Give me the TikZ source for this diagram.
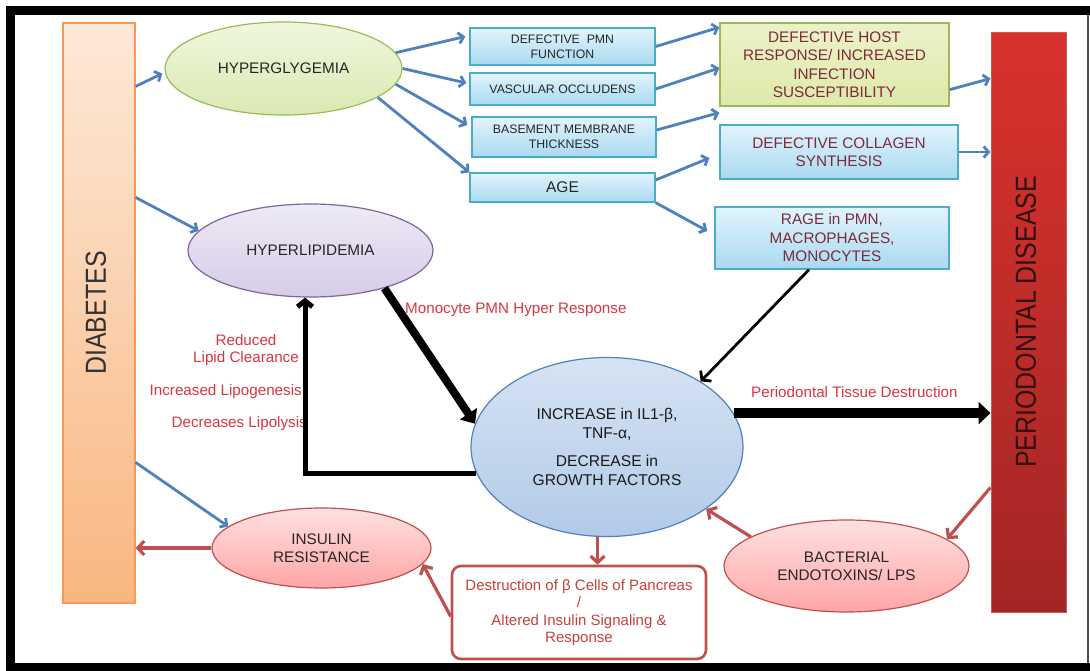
\documentclass[tikz,border=0pt]{standalone}
\usepackage{fontspec}
\setmainfont{Liberation Sans}
\usetikzlibrary{arrows.meta,shapes.geometric,calc}
\definecolor{bluearrow}{HTML}{4F81BD}
\definecolor{redarrow}{HTML}{C0504D}
\definecolor{boxborder}{HTML}{4BACC6}
\definecolor{boxtop}{HTML}{E2F4FC}
\definecolor{boxbot}{HTML}{A9D9F0}
\definecolor{maroon}{HTML}{7B2B3B}
\definecolor{labelred}{HTML}{D9363E}
\definecolor{destred}{HTML}{C8403A}
\begin{document}
\begin{tikzpicture}[x=1pt,y=-1pt,
  bluebox/.style={rectangle,draw=boxborder,line width=1.3pt,top color=boxtop,bottom color=boxbot,inner sep=1pt,align=center,text=black!85,font=\fontsize{12.3}{15}\selectfont},
  bigbox/.style={bluebox,text=maroon,font=\fontsize{15.3}{18.5}\selectfont},
  blueline/.style={draw=bluearrow,line width=2.8pt,-{Straight Barb[length=5pt,width=11pt]}},
  redline/.style={draw=redarrow,line width=3.2pt,-{Straight Barb[length=6.5pt,width=14pt]}},
  redell/.style={ellipse,draw=redarrow,line width=1.2pt,top color=red!12,bottom color=red!35!white,inner sep=0pt,align=center,text=black!85,font=\fontsize{15.3}{18}\selectfont},
  redlabel/.style={text=labelred,font=\fontsize{15.2}{16.5}\selectfont,inner sep=0pt}
]
\useasboundingbox (0,0) rectangle (1090,671);
\fill[white] (0,0) rectangle (1090,671);
% frame
\fill[black] (6,6) rectangle (1090,15);
\fill[black] (6,6) rectangle (15,671);
\fill[black] (6,663) rectangle (1090,671);
\draw[black!70,line width=1.2pt] (1088,15) -- (1088,663);

% side bars
\node[rectangle,draw=orange!85!red!70!white,line width=1.2pt,top color={rgb,255:red,253;green,233;blue,217},bottom color={rgb,255:red,249;green,182;blue,128},minimum width=72,minimum height=580,inner sep=0pt] (diab) at (99,313) {};
\node[rotate=90,text=black!80,font=\fontsize{29}{30}\selectfont,inner sep=0pt] (diabt) at (96,313) {\scalebox{0.86}[1]{DIABETES}};
\node[rectangle,draw={rgb,255:red,200;green,90;blue,90},line width=1pt,top color={rgb,255:red,217;green,50;blue,45},bottom color={rgb,255:red,163;green,38;blue,36},minimum width=75,minimum height=579,inner sep=0pt] (perio) at (1028.5,322.5) {};
\node[rotate=90,text={rgb,255:red,50;green,16;blue,16},font=\fontsize{29}{30}\selectfont,inner sep=0pt] (periot) at (1026,322) {\scalebox{0.86}[1]{PERIODONTAL DISEASE}};

% ellipses
\node[ellipse,draw={rgb,255:red,155;green,187;blue,89},line width=1.2pt,top color={rgb,255:red,240;green,246;blue,222},bottom color={rgb,255:red,218;green,233;blue,178},minimum width=237,minimum height=93,inner sep=0pt,font=\fontsize{15.3}{18}\selectfont,text=black!85] (hg) at (283.5,68.5) {HYPERGLYGEMIA};
\node[ellipse,draw={rgb,255:red,128;green,100;blue,162},line width=1.2pt,top color={rgb,255:red,238;green,234;blue,246},bottom color={rgb,255:red,214;green,204;blue,232},minimum width=245,minimum height=93,inner sep=0pt,font=\fontsize{15.3}{18}\selectfont,text=black!85] (hl) at (310.5,250.5) {HYPERLIPIDEMIA};
\node[ellipse,draw=bluearrow,line width=1.2pt,top color={rgb,255:red,214;green,227;blue,243},bottom color={rgb,255:red,178;green,202;blue,232},minimum width=272,minimum height=179,inner sep=0pt,align=center,font=\fontsize{15.6}{19}\selectfont,text=black!90] (cyt) at (607,447) {INCREASE in IL1-β,\\TNF-α,\\[9pt]DECREASE in\\GROWTH FACTORS};
\node[redell,minimum width=219,minimum height=80] (ins) at (321.5,548) {INSULIN\\RESISTANCE};
\node[redell,minimum width=245,minimum height=92] (bact) at (846.5,566) {BACTERIAL\\ENDOTOXINS/ LPS};

% boxes
\node[bluebox,minimum width=185,minimum height=37] (dpmn) at (562.5,46.5) {DEFECTIVE\ \ PMN\\FUNCTION};
\node[bluebox,minimum width=185,minimum height=32] (voc) at (562.5,89) {VASCULAR OCCLUDENS};
\node[bluebox,minimum width=184,minimum height=40] (bmt) at (564,137) {BASEMENT MEMBRANE\\THICKNESS};
\node[bluebox,minimum width=185,minimum height=29,font=\fontsize{15.5}{18}\selectfont] (age) at (562.5,187.5) {AGE};
\node[bigbox,draw={rgb,255:red,155;green,187;blue,89},top color={rgb,255:red,236;green,242;blue,200},bottom color={rgb,255:red,222;green,233;blue,170},minimum width=229,minimum height=83] (host) at (834.5,64.5) {DEFECTIVE HOST\\RESPONSE/ INCREASED\\INFECTION\\SUSCEPTIBILITY};
\node[bigbox,minimum width=238,minimum height=54] (coll) at (839,152) {DEFECTIVE COLLAGEN\\SYNTHESIS};
\node[bigbox,minimum width=234,minimum height=62] (rage) at (832,238) {RAGE in PMN,\\MACROPHAGES,\\MONOCYTES};
\node[rectangle,rounded corners=9pt,draw=redarrow,line width=2.6pt,fill=white,minimum width=254,minimum height=93,inner sep=0pt,align=center,text=destred,font=\fontsize{15}{17.3}\selectfont] (dest) at (579,612.5) {Destruction of β Cells of Pancreas\\/\\Altered Insulin Signaling \&\\Response};

% labels
\node[redlabel,anchor=west] (lmono) at (405,310) {Monocyte PMN Hyper Response};
\node[redlabel,align=center] (lred) at (246,350) {Reduced\\Lipid Clearance};
\node[redlabel,anchor=east] (llipo) at (302,392) {Increased Lipogenesis};
\node[redlabel,anchor=east] (llys) at (307,424) {Decreases Lipolysis};
\node[redlabel,anchor=west] (ltis) at (751,392) {Periodontal Tissue Destruction};

% blue arrows
\draw[blueline] ([yshift=-64pt]diab.north east) -- ([xshift=-2pt,yshift=-5pt]hg.west);
\draw[blueline] ([yshift=-175pt]diab.north east) -- (hl.170);
\draw[blueline] ([yshift=-440pt]diab.north east) -- (ins.167);
\draw[blueline] (hg.8) -- ([xshift=-4pt,yshift=10pt]dpmn.west);
\draw[blueline] (hg.east) -- ([xshift=-3pt,yshift=6pt]voc.west);
\draw[blueline] (hg.-8) -- ([xshift=-4pt,yshift=12pt]bmt.west);
\draw[blueline] (hg.-17) -- (age.north west);
\draw[blueline] (dpmn.east) -- ([yshift=-5pt]host.north west);
\draw[blueline] (voc.east) -- ([yshift=-3.5pt]host.west);
\draw[blueline] ([yshift=7pt]bmt.east) -- ([yshift=-6pt]host.south west);
\draw[blueline] ([yshift=7.5pt]age.east) -- ([xshift=-10pt,yshift=-6pt]coll.west);
\draw[blueline] (age.south east) -- ([xshift=-7pt,yshift=7pt]rage.west);
\draw[blueline] ([yshift=17pt]host.south east) -- ([yshift=-46pt]perio.north west);
\draw[blueline] (coll.east) -- (coll.east -| perio.west);

% black arrows
\draw[black,line width=2.8pt,-{Straight Barb[length=6pt,width=15pt]}] ([xshift=-23pt]rage.south) -- (cyt.35);
\draw[black,line width=8pt,-{Triangle[length=12pt,width=20pt]}] (hl.-27) -- (cyt.170);
\draw[black,line width=5pt,-{Straight Barb[length=6pt,width=15pt]}] ([xshift=6pt,yshift=-26pt]cyt.west) -| ([xshift=-5.5pt]hl.south);
\draw[black,line width=10pt,-{Triangle[length=12pt,width=22pt]}] (cyt.15) -- (cyt.15 -| perio.west);

% red arrows
\draw[redline] ([yshift=125pt]perio.south west) -- (bact.15);
\draw[redline] (bact.163) -- (cyt.-32);
\draw[redline] (cyt.-96) -- (cyt.-96 |- dest.north);
\draw[redline] ([yshift=-4pt]dest.west) -- (ins.-9);
\draw[redline] (ins.west) -- (ins.west -| diab.east);
\end{tikzpicture}
\end{document}
